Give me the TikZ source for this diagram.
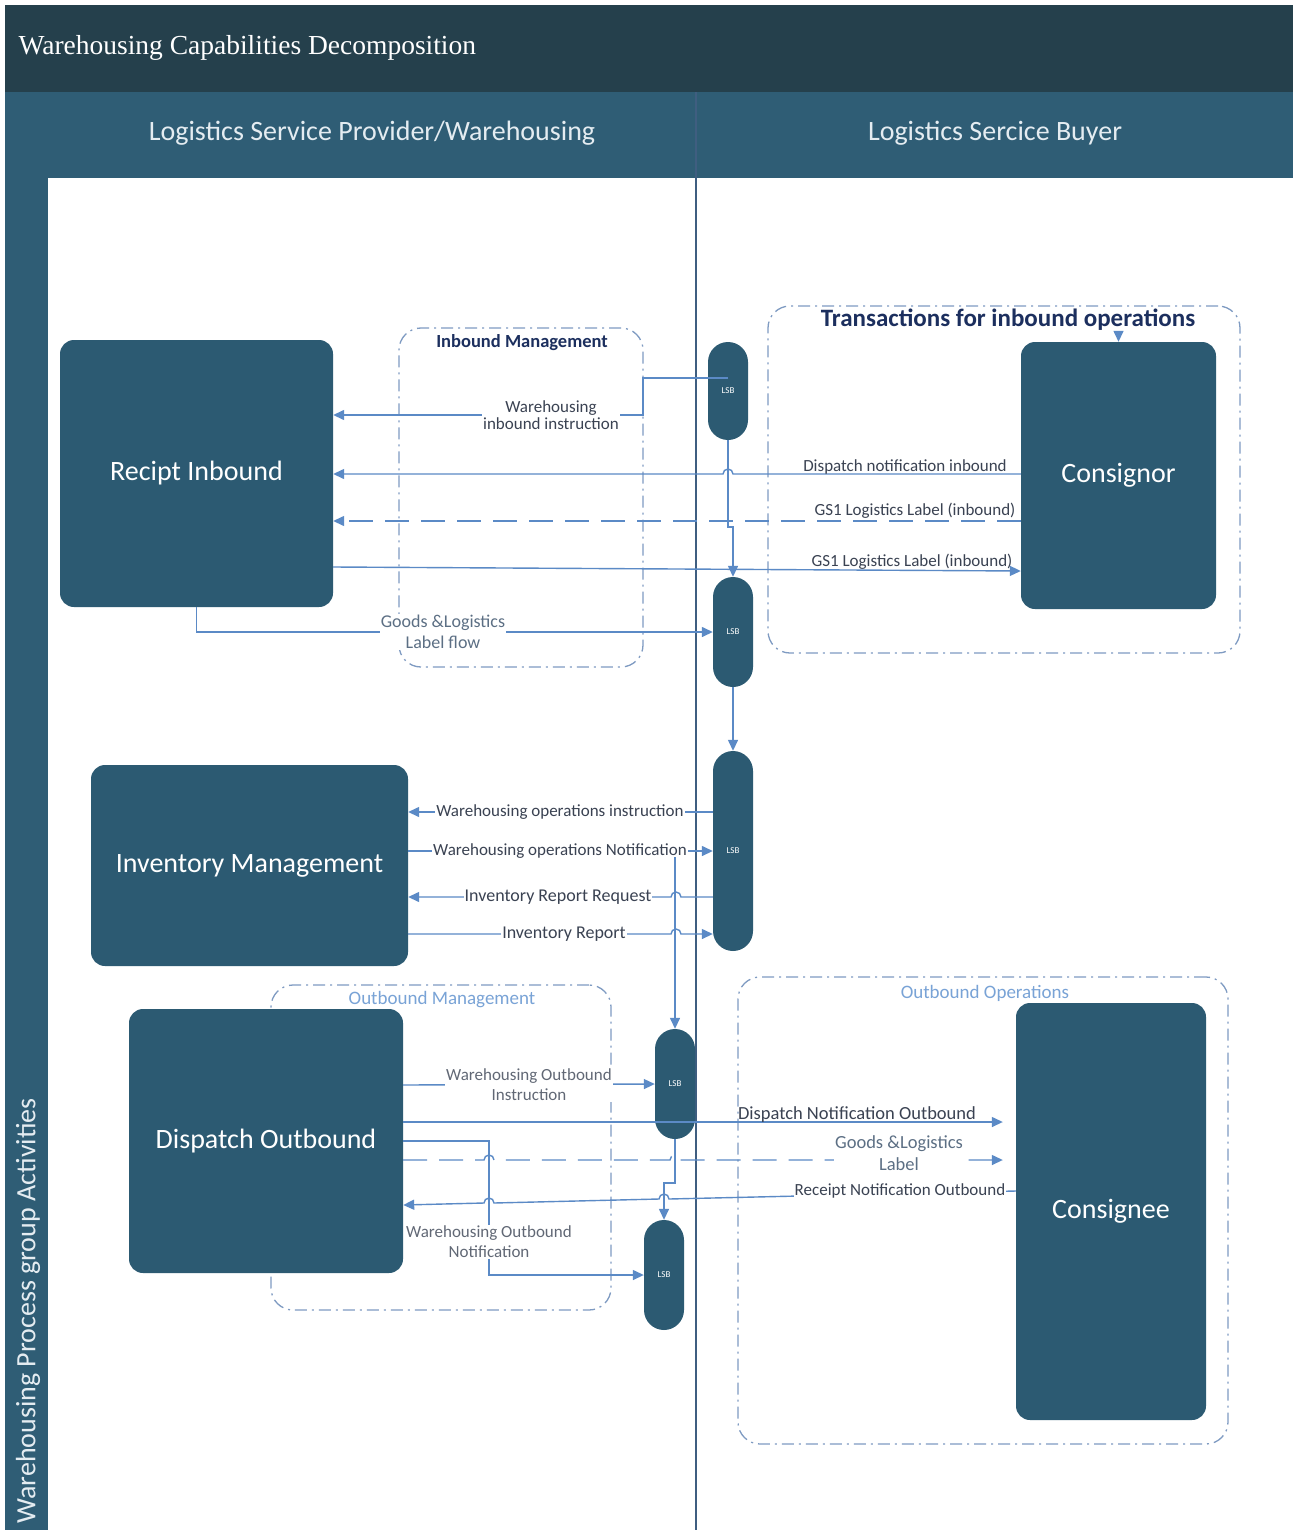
\documentclass[tikz,border=0pt]{standalone}
\usepackage{fontspec}
\setmainfont{Carlito}
\newfontfamily\titlefont{Liberation Serif}
\usetikzlibrary{arrows.meta,calc}
\definecolor{titlebg}{HTML}{25404C}
\definecolor{headbg}{HTML}{2F5D75}
\definecolor{nodebg}{HTML}{2C5A72}
\definecolor{conn}{HTML}{5B8AC6}
\definecolor{grpc}{HTML}{7F9BC2}
\definecolor{navy}{HTML}{1C2F5E}
\definecolor{divc}{HTML}{3F5E80}
\definecolor{lbltext}{HTML}{3A4252}
\definecolor{greylbl}{HTML}{5C6F84}
\definecolor{lightlbl}{HTML}{79A3D6}
\definecolor{headtext}{HTML}{E4ECF1}
\begin{document}
\begin{tikzpicture}[x=1pt,y=-1pt,
  procbox/.style={fill=nodebg, rounded corners=14pt, text=white, inner sep=0pt,
    font=\fontsize{28}{32}\selectfont},
  lsb/.style={fill=nodebg, rounded corners=20pt, minimum width=40pt, inner sep=0pt,
    text=white, font=\fontsize{9}{10}\selectfont},
  grp/.style={draw=grpc, line width=1.3pt, rounded corners=22pt,
    dash pattern=on 12pt off 5pt on 2pt off 5pt, inner sep=0pt},
  hdr/.style={text=headtext, font=\fontsize{28}{32}\selectfont},
  conn/.style={draw=conn, line width=1.4pt},
  arr/.style={-{Triangle[length=11pt,width=10pt]}},
  dsh/.style={dash pattern=on 24pt off 12pt},
  clbl/.style={text=lbltext, fill=white, inner sep=1pt, font=\fontsize{17}{19}\selectfont},
  clbltop/.style={text=lbltext, inner sep=1pt, anchor=south, font=\fontsize{17}{19}\selectfont},
  glbl/.style={text=greylbl, fill=white, inner sep=1pt, align=center, font=\fontsize{18}{21}\selectfont},
]
\useasboundingbox (0,0) rectangle (1293,1530);
\fill[white] (0,0) rectangle (1293,1530);
% pool / lanes
\fill[titlebg] (5,5) rectangle (1293,92);
\fill[headbg] (5,92) rectangle (1293,178);
\fill[headbg] (5,178) rectangle (48,1530);
\draw[divc, line width=1.6pt] (696,92) -- (696,1530);
\node[anchor=west, text=white, font=\titlefont\fontsize{27.5}{31}\selectfont] (title) at (15,48) {Warehousing Capabilities Decomposition};
\node[hdr] (colA) at (372,133) {Logistics Service Provider/Warehousing};
\node[hdr] (colB) at (995,133) {Logistics Sercice Buyer};
\node[hdr, rotate=90] (lane) at (28,1311) {Warehousing Process group Activities};

% groups
\node[grp, minimum width=244pt, minimum height=339pt] (gInb) at (521,497.5) {};
\node[text=navy, font=\bfseries\fontsize{18.5}{21}\selectfont] (gInbL) at (522,343) {Inbound Management};
\node[grp, minimum width=472pt, minimum height=347pt] (gTrans) at (1004,479.5) {};
\node[text=navy, font=\bfseries\fontsize{25}{28}\selectfont] (gTransL) at (1008,320) {Transactions for inbound operations};
\node[grp, minimum width=340pt, minimum height=325pt] (gOutM) at (441,1147.5) {};
\node[text=lightlbl, font=\fontsize{19}{22}\selectfont] (gOutML) at (442,1000) {Outbound Management};
\node[grp, minimum width=490pt, minimum height=467pt] (gOutO) at (983,1210.5) {};
\node[text=lightlbl, font=\fontsize{19}{22}\selectfont] (gOutOL) at (985,993) {Outbound Operations};

% process nodes
\node[procbox, minimum width=273pt, minimum height=267pt] (recipt) at (196.5,473.5) {Recipt Inbound};
\node[procbox, minimum width=195pt, minimum height=267pt] (consignor) at (1118.5,475.5) {Consignor};
\node[procbox, minimum width=317pt, minimum height=201pt] (inv) at (249.5,865.5) {Inventory Management};
\node[procbox, minimum width=274pt, minimum height=264pt] (disp) at (266,1141) {Dispatch Outbound};
\node[procbox, minimum width=190pt, minimum height=417pt] (consignee) at (1111,1211.5) {Consignee};

% LSB capsules
\node[lsb, minimum height=98pt] (lsb1) at (728,391) {LSB};
\node[lsb, minimum height=110pt] (lsb2) at (733,632) {LSB};
\node[lsb, minimum height=200pt] (lsb3) at (733,851) {LSB};
\node[lsb, minimum height=110pt] (lsb4) at (675,1084) {LSB};
\node[lsb, minimum height=110pt] (lsb5) at (664,1275) {LSB};

% inbound connectors
\draw[conn,arr] (gTransL.south -| consignor.north) -- (consignor.north);
\draw[conn,arr] (lsb1.center |- 0,378) -- (643,378) -- (643,415) -- (recipt.east |- 0,415);
\node[clbl, align=center, font=\fontsize{17}{17}\selectfont] (lWII) at (551,415) {Warehousing\\inbound instruction};
\draw[conn,arr] (consignor.west |- 0,474) -- (733,474) arc[start angle=0,end angle=-180,radius=5] -- (recipt.east |- 0,474);
\node[clbltop] (lDNI) at (905,475) {Dispatch notification inbound};
\draw[conn,arr,dsh] (consignor.west |- 0,521) -- (recipt.east |- 0,521);
\node[clbltop] (lGS1a) at (915,520) {GS1 Logistics Label (inbound)};
\draw[conn,arr] (recipt.east |- 0,567) -- (consignor.west |- 0,571);
\node[clbltop] (lGS1b) at (912,571) {GS1 Logistics Label (inbound)};
\draw[conn,arr] (lsb1.south) -- (lsb1.south |- 0,527) -| (lsb2.north);
\draw[conn,arr] (recipt.south) |- (lsb2.west);
\node[glbl] (lGLF) at (443,632) {Goods \&Logistics\\Label flow};
\draw[conn,arr] (lsb2.south) -- (lsb3.north);

% inventory connectors
\draw[conn,arr] (lsb3.west |- 0,812) -- (inv.east |- 0,812);
\node[clbl] (lWOI) at (560,812) {Warehousing operations instruction};
\draw[conn,arr] (inv.east |- 0,851) -- (lsb3.west);
\node[clbl] (lWON) at (560,851) {Warehousing operations Notification};
\draw[conn,arr] (lsb3.west |- 0,897) -- (681,897) arc[start angle=0,end angle=-180,radius=5] -- (inv.east |- 0,897);
\node[clbl, font=\fontsize{18}{20}\selectfont] (lIRR) at (558,897) {Inventory Report Request};
\draw[conn,arr] (inv.east |- 0,934) -- (671,934) arc[start angle=180,end angle=360,radius=5] -- (lsb3.west |- 0,934);
\node[clbl, font=\fontsize{18}{20}\selectfont] (lIR) at (564,934) {Inventory Report};
\draw[conn,arr] (lsb4.north |- 0,857) -- (lsb4.north);

% outbound connectors
\draw[conn,arr] (disp.east |- 0,1085) -- (lsb4.west);
\node[glbl, text=lbltext!80, font=\fontsize{17}{20}\selectfont] (lWOIn) at (529,1085) {Warehousing Outbound\\Instruction};
\draw[conn,arr, shorten >=13pt] (disp.east |- 0,1122) -- (consignee.west |- 0,1122);
\node[clbltop, font=\fontsize{18.5}{20}\selectfont] (lDNO) at (857,1124) {Dispatch Notification Outbound};
\draw[conn,arr,dsh, shorten >=13pt] (disp.east |- 0,1160) -- (484,1160) arc[start angle=180,end angle=360,radius=5] -- (670,1160) arc[start angle=180,end angle=360,radius=5] -- (consignee.west |- 0,1160);
\node[glbl, font=\fontsize{18.5}{22}\selectfont] (lGLL) at (899,1153) {Goods \&Logistics\\Label};
\draw[conn,arr] (lsb4.south) -- (lsb4.south |- 0,1183) -| (lsb5.north);
\draw[conn,arr] (disp.east |- 0,1141) -- (489,1141) -- (489,1275) -- (lsb5.west);
\node[glbl, text=lbltext!80, font=\fontsize{17}{20}\selectfont] (lWOno) at (489,1242) {Warehousing Outbound\\Notification};
\draw[conn,arr] (consignee.west |- 0,1191) -- (669,1199) arc[start angle=0,end angle=-180,radius=5] -- (494,1203) arc[start angle=0,end angle=-180,radius=5] -- (disp.east |- 0,1205);
\node[clbl] (lRNO) at (900,1191) {Receipt Notification Outbound};
\end{tikzpicture}
\end{document}
